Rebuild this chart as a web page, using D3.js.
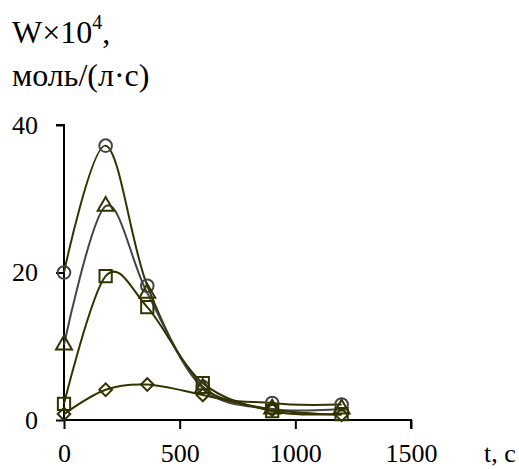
<!DOCTYPE html>
<html>
<head>
<meta charset="utf-8">
<script src="https://cdn.jsdelivr.net/npm/d3@7"></script>
<style>
  body { margin: 0; background: #fff; overflow: hidden; }
</style>
</head>
<body>
<svg id="chart"></svg>
<script>
// data
var times = [0, 180, 360, 600, 900, 1200];
var circles   = [20.0, 37.2, 18.2, 4.5, 2.3, 2.1];
var triangles = [10.2, 29.0, 17.2, 4.3, 1.5, 1.5];
var squares   = [2.2, 19.5, 15.3, 5.0, 1.2, 0.8];
var diamonds  = [0.8, 4.1, 4.8, 3.4, 1.4, 0.7];
var xTicks = [0, 500, 1000, 1500];
var yTicks = [0, 20, 40];

var W = 519, H = 469;
var olive = "#333300", grey = "#444444";
var serif = "'Times New Roman', 'Liberation Serif', serif";

var svg = d3.select("#chart").attr("width", W).attr("height", H)
    .style("display", "block")
    .style("font-family", serif);

var x = d3.scaleLinear().domain([0, 1500]).range([64, 411]);
var y = d3.scaleLinear().domain([0, 40]).range([420, 125]);

var line = d3.line()
    .x(function(d) { return x(d[0]); })
    .y(function(d) { return y(d[1]); })
    .curve(d3.curveCatmullRom.alpha(0));

var series = [
  {vals: circles,   line: olive, mark: grey,  sym: "circle"},
  {vals: triangles, line: grey,  mark: olive, sym: "triangle"},
  {vals: squares,   line: olive, mark: olive, sym: "square"},
  {vals: diamonds,  line: olive, mark: olive, sym: "diamond"}
];

// axes
var yAxis = svg.append("g").attr("transform", "translate(" + x(0) + ",0)")
    .call(d3.axisLeft(y).tickValues(yTicks).tickFormat(d3.format("d")).tickSize(8).tickPadding(18));
var xAxis = svg.append("g").attr("transform", "translate(0," + y(0) + ")")
    .call(d3.axisBottom(x).tickValues(xTicks).tickFormat(d3.format("d")).tickSize(9).tickPadding(15));
[xAxis, yAxis].forEach(function(a) {
  a.attr("font-family", null).attr("font-size", 26);
  a.select(".domain").attr("stroke", "#000").attr("stroke-width", 2);
  a.selectAll(".tick line").attr("stroke", "#000").attr("stroke-width", 2);
  a.selectAll("text").style("font-family", serif).attr("fill", "#000");
});
yAxis.select(".domain").attr("d", "M-8," + y(40) + "H0V" + y(0));
xAxis.select(".domain").attr("d", "M" + x(0) + ",0H" + x(1500) + "V9");

// lines
series.forEach(function(s) {
  var pts = times.map(function(t, i) { return [t, s.vals[i]]; });
  svg.append("path").datum(pts)
      .attr("fill", "none")
      .attr("stroke", s.line)
      .attr("stroke-width", 2)
      .attr("d", line);
});

// markers
var symbols = {
  circle: d3.symbol().type(d3.symbolCircle).size(125),
  triangle: d3.symbol().type(d3.symbolTriangle).size(110),
  square: d3.symbol().type(d3.symbolSquare).size(150),
  diamond: d3.symbol().type(d3.symbolSquare).size(80)
};
series.forEach(function(s) {
  svg.append("g").selectAll("path")
    .data(s.vals)
    .enter().append("path")
      .attr("transform", function(d, i) {
        return "translate(" + x(times[i]) + "," + y(d) + ")" + (s.sym === "diamond" ? " rotate(45)" : "");
      })
      .attr("d", symbols[s.sym])
      .attr("fill", "none")
      .attr("stroke", s.mark)
      .attr("stroke-width", 2);
});

// titles
var t1 = svg.append("text").attr("x", 12).attr("y", 43).attr("font-size", 32).style("font-family", serif);
t1.append("tspan").text("W×10");
t1.append("tspan").attr("font-size", 20).attr("dy", -14).text("4");
t1.append("tspan").attr("dy", 14).text(",");
svg.append("text").attr("x", 12).attr("y", 86).attr("font-size", 32).style("font-family", serif).text("моль/(л·с)");
svg.append("text").attr("x", 484).attr("y", 462).attr("font-size", 26).style("font-family", serif).text("t, с");
</script>
</body>
</html>
